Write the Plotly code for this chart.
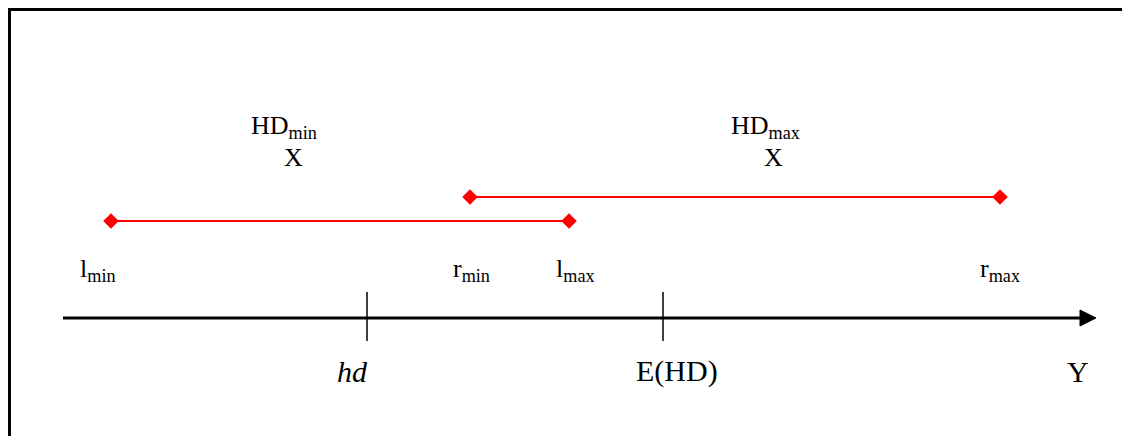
import plotly.graph_objects as go

# ---- data (positions on the Y axis) ----
interval_names = ["HD_min", "HD_max"]
interval_left = [111, 470]      # l_min, r_min
interval_right = [569, 1000]    # l_max, r_max
interval_level = [221, 197]     # vertical position of each interval

endpoint_labels = ["l<sub>min</sub>", "r<sub>min</sub>", "l<sub>max</sub>", "r<sub>max</sub>"]
endpoint_label_x = [98, 471, 575, 1000]

interval_title = ["HD<sub>min</sub>", "HD<sub>max</sub>"]
interval_title_x = [284, 765]
interval_mark_x = [293, 773]

tick_labels = ["<i>hd</i>", "E(HD)"]
tick_pos = [367, 663]
tick_label_x = [352, 677]

axis_start = 63
axis_end = 1096
axis_level = 318
axis_name = "Y"
axis_name_x = 1078

FONT = "Liberation Serif, Times New Roman, serif"
RED = "#ff0000"
OFF = 8  # page body margin offset
W, H = 1130, 436

fig = go.Figure()

for i in range(len(interval_names)):
    fig.add_trace(go.Scatter(
        x=[interval_left[i], interval_right[i]],
        y=[interval_level[i], interval_level[i]],
        mode="lines+markers",
        line=dict(color=RED, width=2),
        marker=dict(symbol="diamond", size=12, color=RED),
        name=interval_names[i],
        showlegend=False,
        hoverinfo="skip",
    ))

shapes = []
# frame (left and top edges visible, as close to the page corner as possible)
shapes.append(dict(type="rect", xref="paper", yref="paper",
                   x0=1.5 / W, x1=1.2, y0=-0.2, y1=1 - 1.5 / H,
                   line=dict(color="black", width=3)))
# axis
shapes.append(dict(type="line", xref="x", yref="y", x0=axis_start, x1=axis_end - 14,
                   y0=axis_level, y1=axis_level, line=dict(color="black", width=3)))
shapes.append(dict(type="path", xref="x", yref="y",
                   path=f"M {axis_end-16} {axis_level-8} L {axis_end} {axis_level} L {axis_end-16} {axis_level+8} Z",
                   fillcolor="black", line=dict(color="black", width=1)))
for t in tick_pos:
    shapes.append(dict(type="line", xref="x", yref="y", x0=t, x1=t,
                       y0=axis_level - 26, y1=axis_level + 23,
                       line=dict(color="black", width=1.5)))

ann = []
def text(x, y, s, size=26):
    ann.append(dict(x=x, y=y, xref="x", yref="y", text=s, showarrow=False,
                    font=dict(family=FONT, size=size, color="black"),
                    xanchor="center", yanchor="middle"))

for i in range(2):
    text(interval_title_x[i], 127, interval_title[i])
    text(interval_mark_x[i], 157, "X")
for lx, lab in zip(endpoint_label_x, endpoint_labels):
    text(lx, 270, lab)
for lx, lab in zip(tick_label_x, tick_labels):
    text(lx, 371, lab, size=30)
text(axis_name_x, 371, axis_name, size=30)

fig.update_layout(
    width=W, height=H,
    margin=dict(l=0, r=0, t=0, b=0),
    paper_bgcolor="white", plot_bgcolor="white",
    xaxis=dict(range=[OFF, W + OFF], visible=False, fixedrange=True),
    yaxis=dict(range=[H + OFF, OFF], visible=False, fixedrange=True),
    shapes=shapes, annotations=ann,
)

fig.write_html("out.html")
